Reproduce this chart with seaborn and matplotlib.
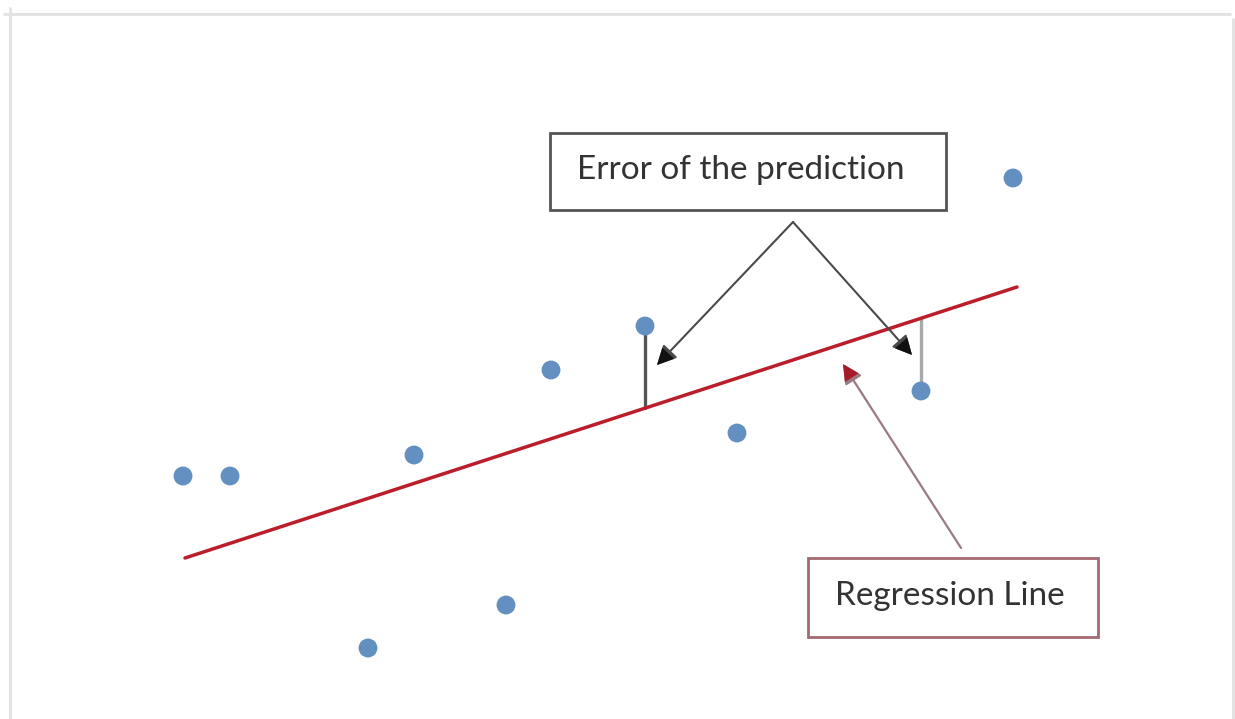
import numpy as np
import pandas as pd
import matplotlib
matplotlib.use("Agg")
import matplotlib.pyplot as plt
from matplotlib.patches import Rectangle
import seaborn as sns

# Observed points (horizontal position, vertical position; vertical axis grows downward)
obs_x = [183, 230, 368, 414, 506, 551, 645, 737, 921, 1013]
obs_y = [476, 476, 648, 455, 605, 370, 326, 433, 391, 178]

# Fitted regression line end points
fit_x = [185, 1017]
fit_y = [558, 287]

# Points whose residuals are highlighted
resid_idx = [6, 8]
resid_colors = ["#555555", "#a8a8a8"]

labels = ["Error of the prediction", "Regression Line"]

sns.set_theme(style="white")
plt.rcParams["font.family"] = ["Lato", "DejaVu Sans"]

fig = plt.figure(figsize=(12.35, 7.19), dpi=100)
ax = fig.add_axes([0, 0, 1, 1])

# light frame around the diagram
frame_kw = dict(color="#e3e3e3", lw=2.2, solid_capstyle="butt", zorder=0)
ax.plot([10, 10], [7, 719], **frame_kw)
ax.plot([3, 1231], [14, 14], **frame_kw)
ax.plot([1233, 1233], [18, 719], **frame_kw)

df_obs = pd.DataFrame({"x": obs_x, "y": obs_y})
df_fit = pd.DataFrame({"x": fit_x, "y": fit_y})

# residual segments
for i, c in zip(resid_idx, resid_colors):
    yhat = np.interp(obs_x[i], fit_x, fit_y)
    ax.plot([obs_x[i], obs_x[i]], [obs_y[i], yhat], color=c, lw=2.4, zorder=2)

sns.lineplot(data=df_fit, x="x", y="y", ax=ax, color="#bc1d2a", lw=2.5,
             zorder=3, legend=False, sort=False)
sns.scatterplot(data=df_obs, x="x", y="y", ax=ax, color="#6390c0", s=185,
                edgecolor="none", zorder=4, legend=False)
ax.set_xlim(0, 1235)
ax.set_ylim(719, 0)
ax.axis("off")

# label box: error of the prediction
ax.add_patch(Rectangle((550, 133), 396, 77, fill=False, edgecolor="#555555",
                       lw=2.0, zorder=5))
ax.text(741, 170, labels[0], ha="center", va="center", fontsize=24,
        color="#333333", zorder=6)
for tx, ty in [(657, 365), (912, 355)]:
    ax.annotate("", xy=(tx, ty), xytext=(793, 222),
                arrowprops=dict(arrowstyle="-|>,head_length=0.9,head_width=0.45",
                                color="#4a4a4a", lw=1.5, shrinkA=0, shrinkB=0,
                                mutation_scale=13),
                zorder=6)
    # solid black tip
    ax.annotate("", xy=(tx, ty), xytext=(793, 222),
                arrowprops=dict(arrowstyle="-|>,head_length=0.9,head_width=0.45",
                                color="#111111", lw=0, shrinkA=0, shrinkB=0,
                                mutation_scale=13),
                zorder=7)

# label box: regression line
ax.add_patch(Rectangle((808, 558), 290, 79, fill=False, edgecolor="#a46a72",
                       lw=2.0, zorder=5))
ax.text(950, 596, labels[1], ha="center", va="center", fontsize=24,
        color="#333333", zorder=6)
ax.annotate("", xy=(843, 364), xytext=(961, 548),
            arrowprops=dict(arrowstyle="-|>,head_length=0.9,head_width=0.45",
                            color="#9a7a80", lw=1.6, shrinkA=0, shrinkB=0,
                            mutation_scale=13),
            zorder=6)
# darker red arrow tip
ax.annotate("", xy=(843, 364), xytext=(961, 548),
            arrowprops=dict(arrowstyle="-|>,head_length=0.9,head_width=0.45",
                            color="#a51c28", lw=0, shrinkA=0, shrinkB=0,
                            mutation_scale=13),
            zorder=7)

fig.savefig("out.png", dpi=100)
